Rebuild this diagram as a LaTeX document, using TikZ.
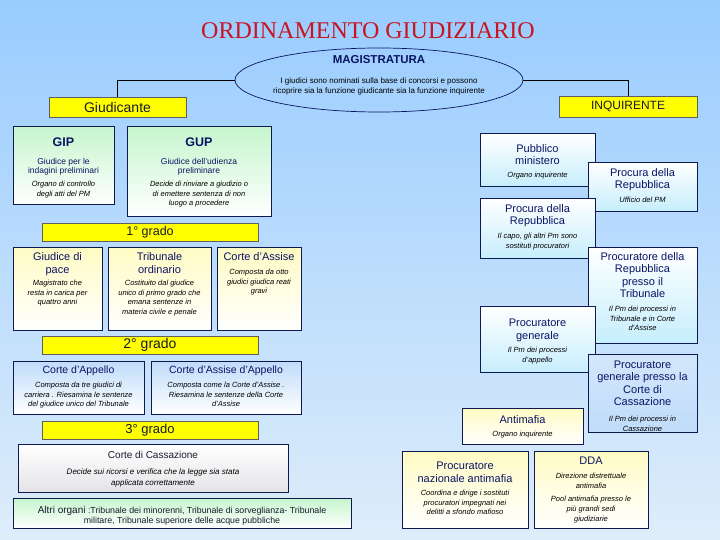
\documentclass[tikz,border=0pt]{standalone}
\usepackage{fontspec}
\setmainfont{Liberation Sans}
\newfontfamily\serifttl{Liberation Serif}
\usetikzlibrary{shapes.geometric}
\definecolor{bgtop}{RGB}{153,204,255}
\definecolor{bgbot}{RGB}{222,237,250}
\definecolor{navy}{RGB}{10,20,100}
\definecolor{boxline}{RGB}{15,25,80}
\definecolor{ttlred}{RGB}{200,22,32}
\definecolor{ttlshadow}{RGB}{120,140,170}
\definecolor{ybar}{RGB}{255,255,0}
\definecolor{barline}{RGB}{95,95,95}
\definecolor{greentop}{RGB}{198,245,205}
\definecolor{creamtop}{RGB}{255,251,196}
\definecolor{bluetop}{RGB}{192,220,250}
\definecolor{cyanbot}{RGB}{198,238,252}
\definecolor{graybot}{RGB}{228,228,232}
\definecolor{txtdark}{RGB}{25,25,45}
\newcommand\bx[6]{\pgfmathsetmacro\bw{#5-#3}\pgfmathsetmacro\bh{#6-#4}%
  \node[#2, anchor=north west, inner sep=0pt, minimum width=\bw pt, minimum height=\bh pt] (#1) at (#3,#4) {};}
\tikzset{
  framed/.style={draw=boxline, line width=0.7pt},
  greenbx/.style={framed, top color=greentop, bottom color=white},
  creambx/.style={framed, top color=creamtop, bottom color=white},
  bluebx/.style={framed, top color=bluetop, bottom color=white},
  cyanbx/.style={framed, top color=white, bottom color=cyanbot},
  cassbx/.style={framed, top color=bluetop!70!white, bottom color=bluetop},
  graybx/.style={framed, top color=white, bottom color=graybot},
  yellowbar/.style={draw=barline, line width=0.7pt, fill=ybar, inner sep=0pt, text=txtdark},
  ttl/.style={font=\fontsize{11}{12.6}\selectfont, text=navy, align=center, inner sep=0pt, anchor=north},
  subttl/.style={font=\fontsize{8.5}{9.6}\selectfont, text=navy, align=center, inner sep=0pt, anchor=north},
  itx/.style={font=\fontsize{7.5}{9.6}\selectfont\itshape, text=black, align=center, inner sep=0pt, anchor=north},
  conn/.style={draw=black, line width=0.8pt},
}
\begin{document}
\begin{tikzpicture}[x=1pt,y=-1pt]
\useasboundingbox (0,0) rectangle (720,540);
\shade[top color=bgtop, bottom color=bgbot] (0,0) rectangle (720,540);

% title
\node[font=\serifttl\fontsize{24}{28}\selectfont, text=ttlred, inner sep=0pt] (title) at (368,31) {ORDINAMENTO GIUDIZIARIO};

% ellipse
\node[ellipse, draw=navy, line width=0.7pt, minimum width=288pt, minimum height=64pt, inner sep=0pt] (mag) at (379,80) {};
\node[font=\bfseries\fontsize{11.5}{13}\selectfont, text=navy, inner sep=0pt, anchor=north] (magt) at (379,55) {MAGISTRATURA};
\node[font=\fontsize{8}{10}\selectfont, align=center, inner sep=0pt, anchor=north] (magx) at (379,78) {I giudici sono nominati sulla base di concorsi e possono\\ricoprire sia la funzione giudicante sia la funzione inquirente};

% top bars
\node[yellowbar, font=\fontsize{14}{16}\selectfont, minimum width=137pt, minimum height=20pt] (giud) at (117.5,107) {Giudicante};
\node[yellowbar, font=\fontsize{12}{14}\selectfont, minimum width=138pt, minimum height=21pt] (inq) at (628,106.5) {INQUIRENTE};
\draw[conn] (giud.north) |- (mag.west);
\draw[conn] (inq.north) |- (mag.east);

% GIP / GUP
\bx{gip}{greenbx}{13}{126}{114}{204}
\node[font=\bfseries\fontsize{12.5}{14}\selectfont, text=navy, inner sep=0pt, anchor=north] (gipt) at (63.5,138) {GIP};
\node[subttl] (gips) at (63.5,158) {Giudice per le\\indagini preliminari};
\node[itx] (gipi) at (63.5,181) {Organo di controllo\\degli atti del PM};

\bx{gup}{greenbx}{127}{126}{271}{216}
\node[font=\bfseries\fontsize{12.5}{14}\selectfont, text=navy, inner sep=0pt, anchor=north] (gupt) at (199,138) {GUP};
\node[subttl] (gups) at (199,158) {Giudice dell'udienza\\preliminare};
\node[itx] (gupi) at (199,181) {Decide di rinviare a giudizio o\\di emettere sentenza di non\\luogo a procedere};

% 1 grado
\node[yellowbar, font=\fontsize{12.5}{14}\selectfont, minimum width=216pt, minimum height=18pt] (g1) at (150,232) {1° grado};

\bx{gdp}{creambx}{13}{247}{102}{330}
\node[ttl, font=\fontsize{11}{13}\selectfont] (gdpt) at (57.5,252) {Giudice di\\pace};
\node[itx] (gdpi) at (57.5,280) {Magistrato che\\resta in carica per\\quattro anni};

\bx{trib}{creambx}{108}{247}{211}{330}
\node[ttl, font=\fontsize{11}{13}\selectfont] (tribt) at (159.5,252) {Tribunale\\ordinario};
\node[itx] (tribi) at (159.5,280) {Costituito dal giudice\\unico di primo grado che\\emana sentenze in\\materia civile e penale};

\bx{ass}{creambx}{217}{247}{301}{330}
\node[ttl] (asst) at (259,252) {Corte d'Assise};
\node[itx] (assi) at (259,269) {Composta da otto\\giudici giudica reati\\gravi};

% 2 grado
\node[yellowbar, font=\fontsize{14}{16}\selectfont, minimum width=216pt, minimum height=18pt] (g2) at (150,345) {2° grado};

\bx{app}{bluebx}{13}{361}{144}{414}
\node[ttl, font=\fontsize{10.5}{12}\selectfont] (appt) at (78.5,366) {Corte d'Appello};
\node[itx] (appi) at (78.5,382) {Composta da tre giudici di\\carriera . Riesamina le sentenze\\del giudice unico del Tribunale};

\bx{assapp}{bluebx}{151}{361}{301}{414}
\node[ttl, font=\fontsize{10.5}{12}\selectfont] (assappt) at (226,366) {Corte d'Assise d'Appello};
\node[itx] (assappi) at (226,382) {Composta come la Corte d'Assise .\\Riesamina le sentenze della Corte\\d'Assise};

% 3 grado
\node[yellowbar, font=\fontsize{13}{15}\selectfont, minimum width=216pt, minimum height=18pt] (g3) at (150,430) {3° grado};

\bx{cass}{graybx}{18}{444}{288}{492}
\node[ttl, font=\fontsize{10}{12}\selectfont, text=txtdark] (casst) at (153,451) {Corte di Cassazione};
\node[itx, font=\fontsize{8}{11}\selectfont\itshape] (cassi) at (153,469) {Decide sui ricorsi e verifica che la legge sia stata\\applicata correttamente};

\bx{altri}{greenbx}{13}{498}{351}{528}
\node[font=\fontsize{8.8}{10}\selectfont, text=txtdark, align=center, inner sep=0pt, anchor=north] (altrit) at (182,506) {{\fontsize{10}{10}\selectfont Altri organi} :Tribunale dei minorenni, Tribunale di sorveglianza- Tribunale\\militare, Tribunale superiore delle acque pubbliche};

% right column
\bx{pm}{cyanbx}{480}{133}{595}{186}
\node[ttl, font=\fontsize{11}{12.8}\selectfont] (pmt) at (537.5,144) {Pubblico\\ministero};
\node[itx] (pmi) at (537.5,172) {Organo inquirente};

\bx{procr}{cyanbx}{588}{162}{697}{211}
\node[ttl, font=\fontsize{11}{12.4}\selectfont] (procrt) at (642.5,168) {Procura della\\Repubblica};
\node[itx] (procri) at (642.5,197) {Ufficio del PM};

\bx{procl}{cyanbx}{480}{198}{595}{258}
\node[ttl, font=\fontsize{11}{12.8}\selectfont] (proclt) at (537.5,204) {Procura della\\Repubblica};
\node[itx] (procli) at (537.5,233) {Il capo, gli altri Pm sono\\sostituti procuratori};

\bx{prtrib}{cyanbx}{588}{247}{697}{343}
\node[ttl, font=\fontsize{11}{12.6}\selectfont] (prtribt) at (642.5,252) {Procuratore della\\Repubblica\\presso il\\Tribunale};
\node[itx] (prtribi) at (642.5,306) {Il Pm dei processi in\\Tribunale e in Corte\\d'Assise};

\bx{prgen}{cyanbx}{480}{306}{595}{372}
\node[ttl, font=\fontsize{11}{12.8}\selectfont] (prgent) at (537.5,319) {Procuratore\\generale};
\node[itx] (prgeni) at (537.5,347) {Il Pm dei processi\\d'appello};

\bx{prcass}{cassbx}{588}{354}{697}{432}
\node[ttl, font=\fontsize{11}{12.2}\selectfont] (prcasst) at (642.5,361) {Procuratore\\generale presso la\\Corte di\\Cassazione};
\node[itx] (prcassi) at (642.5,416) {Il Pm dei processi in\\Cassazione};

\bx{antim}{creambx}{462}{408}{583}{444}
\node[ttl] (antimt) at (522.5,415) {Antimafia};
\node[itx] (antimi) at (522.5,431) {Organo inquirente};

\bx{prnaz}{creambx}{402}{451}{528}{528}
\node[ttl, font=\fontsize{11}{12.8}\selectfont] (prnazt) at (465,462) {Procuratore\\nazionale antimafia};
\node[itx] (prnazi) at (465,490) {Coordina e dirige i sostituti\\procuratori impegnati nei\\delitti a sfondo mafioso};

\bx{dda}{creambx}{534}{451}{648}{528}
\node[ttl] (ddat) at (591,457) {DDA};
\node[itx, font=\fontsize{7.5}{10}\selectfont\itshape] (ddai) at (591,473) {Direzione distrettuale\\antimafia};
\node[itx, font=\fontsize{7.5}{10}\selectfont\itshape] (ddaj) at (591,496) {Pool antimafia presso le\\più grandi sedi\\giudiziarie};
\end{tikzpicture}
\end{document}
